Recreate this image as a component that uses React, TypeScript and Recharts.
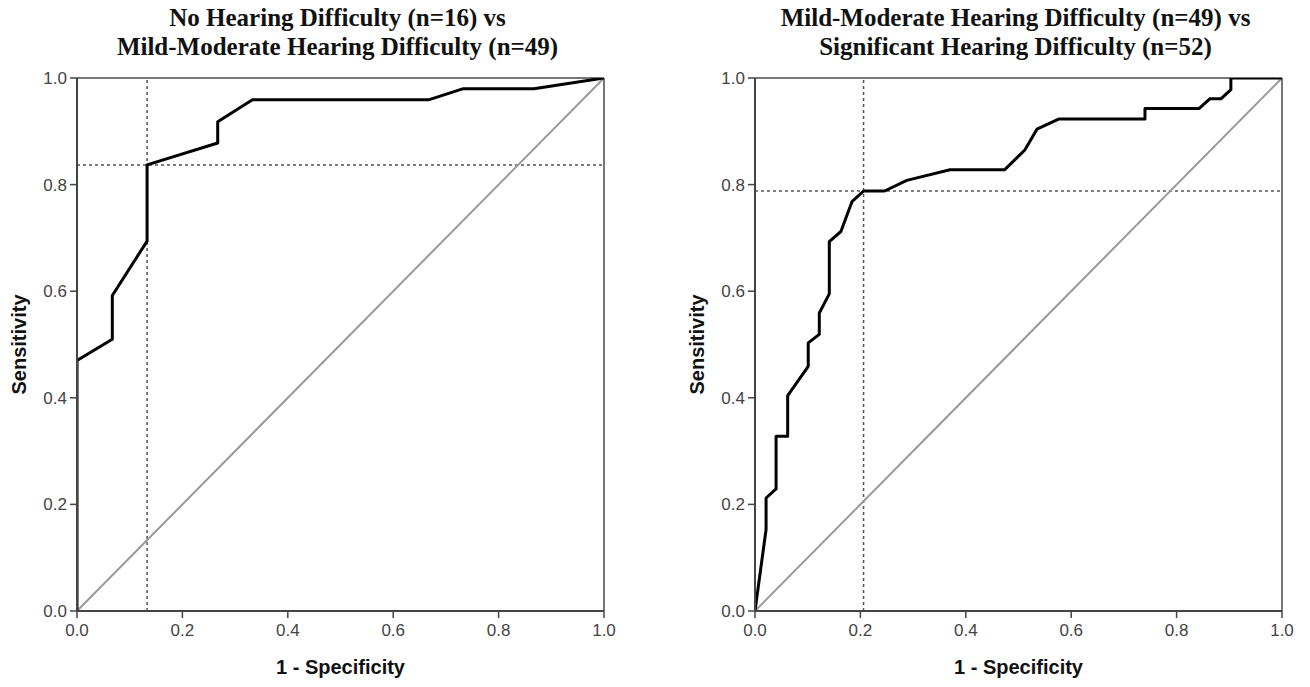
import { LineChart, Line, XAxis, YAxis, ReferenceLine } from "recharts";

// left panel: No Hearing Difficulty vs Mild-Moderate
const leftFpr = [0, 0, 0.067, 0.067, 0.133, 0.133, 0.267, 0.267, 0.333, 0.667, 0.733, 0.867, 1];
const leftTpr = [0, 0.47, 0.51, 0.592, 0.694, 0.837, 0.878, 0.918, 0.959, 0.959, 0.98, 0.98, 1];
const leftCut = [0.133, 0.837];

// right panel: Mild-Moderate vs Significant
const rightFpr = [
  0, 0.021, 0.021, 0.04, 0.04, 0.062, 0.062, 0.101, 0.101, 0.122, 0.122, 0.141, 0.141, 0.163, 0.184,
  0.206, 0.246, 0.288, 0.37, 0.474, 0.512, 0.535, 0.576, 0.74, 0.74, 0.843, 0.863, 0.884, 0.903, 0.903, 1,
];
const rightTpr = [
  0, 0.153, 0.212, 0.229, 0.328, 0.328, 0.404, 0.459, 0.503, 0.519, 0.559, 0.595, 0.693, 0.712, 0.768,
  0.788, 0.788, 0.808, 0.828, 0.828, 0.865, 0.904, 0.923, 0.923, 0.943, 0.943, 0.961, 0.961, 0.978, 1, 1,
];
const rightCut = [0.206, 0.788];

const chance = [0, 1];
const ticks = [0, 0.2, 0.4, 0.6, 0.8, 1];

const toPoints = (xs: number[], ys: number[]) => xs.map((x, i) => ({ x, y: ys[i] }));

const tickStyle = { fill: "#444", fontSize: 17, fontFamily: "Liberation Sans, Arial, sans-serif" };
const labelFont = "Liberation Sans, Arial, sans-serif";

function RocPanel(props: {
  left: number;
  width: number;
  marginLeft: number;
  marginRight: number;
  fpr: number[];
  tpr: number[];
  cut: number[];
  title: string[];
}) {
  const { left, width, marginLeft, marginRight, fpr, tpr, cut, title } = props;
  const roc = toPoints(fpr, tpr);
  const diag = toPoints(chance, chance);
  const plotLeft = marginLeft + 60;
  const plotCenter = plotLeft + (width - plotLeft - marginRight) / 2;

  return (
    <div style={{ position: "absolute", left, top: 0, width, height: 687 }}>
      <div
        style={{
          position: "absolute",
          top: 3,
          left: plotCenter - 3 - 320,
          width: 640,
          textAlign: "center",
          fontFamily: "Liberation Serif, Times New Roman, serif",
          fontWeight: "bold",
          fontSize: 25,
          lineHeight: "29px",
          color: "#111",
        }}
      >
        {title.map((t) => (
          <div key={t}>{t}</div>
        ))}
      </div>
      <LineChart
        width={width}
        height={687}
        margin={{ top: 78, right: marginRight, bottom: 11, left: marginLeft }}
      >
        <XAxis
          type="number"
          dataKey="x"
          domain={[0, 1]}
          ticks={ticks}
          tickFormatter={(v: number) => v.toFixed(1)}
          tick={tickStyle}
          tickSize={7}
          tickMargin={6}
          height={65}
          axisLine={{ stroke: "#444", strokeWidth: 2 }}
          tickLine={{ stroke: "#444", strokeWidth: 1.5 }}
          allowDataOverflow
          label={{
            content: ({ viewBox }: any) => (
              <text
                x={viewBox.x + viewBox.width / 2}
                y={viewBox.y + 63}
                textAnchor="middle"
                fontFamily={labelFont}
                fontWeight="bold"
                fontSize={20}
                fill="#111"
              >
                1 - Specificity
              </text>
            ),
          }}
        />
        <YAxis
          type="number"
          dataKey="y"
          domain={[0, 1]}
          ticks={ticks}
          tickFormatter={(v: number) => v.toFixed(1)}
          tick={tickStyle}
          tickSize={7}
          tickMargin={3}
          width={60}
          axisLine={{ stroke: "#444", strokeWidth: 2 }}
          tickLine={{ stroke: "#444", strokeWidth: 1.5 }}
          allowDataOverflow
          label={{
            content: ({ viewBox }: any) => {
              const cx = viewBox.x + viewBox.width - 56;
              const cy = viewBox.y + viewBox.height / 2;
              return (
                <text
                  x={cx}
                  y={cy}
                  transform={`rotate(-90, ${cx}, ${cy})`}
                  textAnchor="middle"
                  dominantBaseline="middle"
                  fontFamily={labelFont}
                  fontWeight="bold"
                  fontSize={20}
                  fill="#111"
                >
                  Sensitivity
                </text>
              );
            },
          }}
        />
        <ReferenceLine y={1} stroke="#777" strokeWidth={2} />
        <ReferenceLine x={1} stroke="#777" strokeWidth={2} />
        <ReferenceLine x={cut[0]} stroke="#555" strokeWidth={1.5} strokeDasharray="3 3" />
        <ReferenceLine y={cut[1]} stroke="#555" strokeWidth={1.5} strokeDasharray="3 3" />
        <Line
          data={diag}
          dataKey="y"
          type="linear"
          stroke="#999"
          strokeWidth={2}
          dot={false}
          isAnimationActive={false}
        />
        <Line
          data={roc}
          dataKey="y"
          type="linear"
          stroke="#000"
          strokeWidth={3}
          strokeLinejoin="round"
          dot={false}
          isAnimationActive={false}
        />
      </LineChart>
    </div>
  );
}

export default function App() {
  return (
    <div style={{ position: "absolute", left: 0, top: 0, width: 1310, height: 687, background: "#fff" }}>
      <RocPanel
        left={0}
        width={655}
        marginLeft={17}
        marginRight={51}
        fpr={leftFpr}
        tpr={leftTpr}
        cut={leftCut}
        title={["No Hearing Difficulty (n=16) vs", "Mild-Moderate Hearing Difficulty (n=49)"]}
      />
      <RocPanel
        left={678}
        width={632}
        marginLeft={17}
        marginRight={28}
        fpr={rightFpr}
        tpr={rightTpr}
        cut={rightCut}
        title={["Mild-Moderate Hearing Difficulty (n=49) vs", "Significant Hearing Difficulty (n=52)"]}
      />
    </div>
  );
}
